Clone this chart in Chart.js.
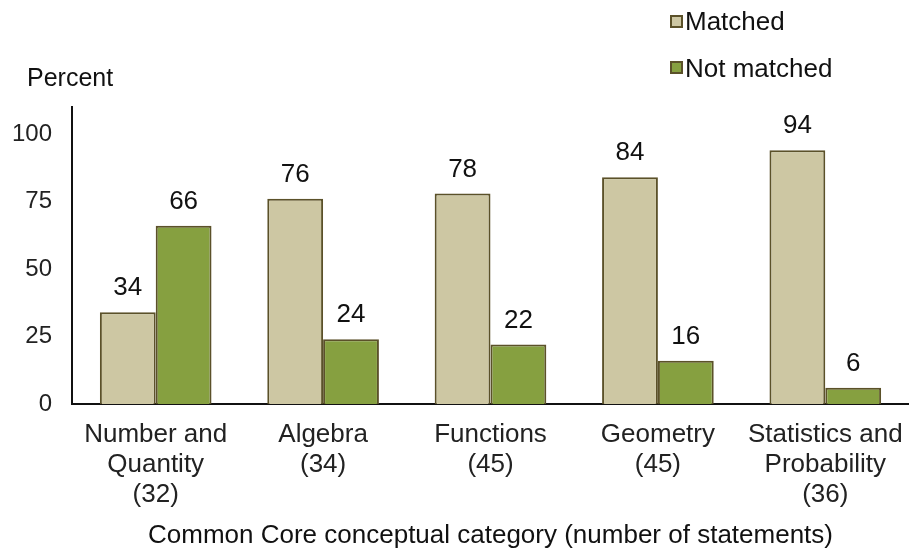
<!DOCTYPE html>
<html>
<head>
<meta charset="utf-8">
<script src="https://cdn.jsdelivr.net/npm/chart.js@4/dist/chart.umd.min.js"></script>
<style>
  html, body { margin: 0; padding: 0; background: #fff; }
  #wrap { position: relative; width: 909px; height: 552px; font-family: "Liberation Sans", Arial, sans-serif; color: #111; }
  #chart { position: absolute; left: 0; top: 0; }
  .lbl { position: absolute; font-size: 25px; line-height: 30px; white-space: nowrap; }
  .sw { position: absolute; width: 9px; height: 9px; border: 2px solid #5b5129; }
</style>
</head>
<body>
<div id="wrap">
  <canvas id="chart" width="909" height="552"></canvas>
  <div class="lbl" style="left:27px; top:62px;">Percent</div>
  <div class="sw" style="left:670px; top:15px; background:#cdc7a3;"></div>
  <div class="lbl" style="left:685px; top:6px; font-size:26px;">Matched</div>
  <div class="sw" style="left:670px; top:61px; background:#86a040;"></div>
  <div class="lbl" style="left:685px; top:53px; font-size:26px;">Not matched</div>
</div>
<script>
(function() {
  'use strict';

  const categories = [
    ['Number and', 'Quantity', '(32)'],
    ['Algebra', '(34)'],
    ['Functions', '(45)'],
    ['Geometry', '(45)'],
    ['Statistics and', 'Probability', '(36)']
  ];
  const matched = [34, 76, 78, 84, 94];
  const notMatched = [66, 24, 22, 16, 6];
  const yTicks = [0, 25, 50, 75, 100];

  const FONT = '"Liberation Sans", Arial, sans-serif';

  // Valores encima de cada barra
  const valueLabels = {
    id: 'valueLabels',
    afterDatasetsDraw(chart) {
      const ctx = chart.ctx;
      ctx.save();
      ctx.font = '26px ' + FONT;
      ctx.fillStyle = '#111';
      ctx.textAlign = 'center';
      ctx.textBaseline = 'bottom';
      chart.data.datasets.forEach((ds, i) => {
        chart.getDatasetMeta(i).data.forEach((bar, j) => {
          ctx.fillText(String(ds.data[j]), bar.x, bar.y - 11);
        });
      });
      ctx.restore();
    }
  };

  new Chart(document.getElementById('chart').getContext('2d'), {
    type: 'bar',
    data: {
      labels: categories,
      datasets: [{
        label: 'Matched',
        data: matched,
        backgroundColor: '#cdc7a3',
        borderColor: '#5b5129',
        borderWidth: 2
      }, {
        label: 'Not matched',
        data: notMatched,
        backgroundColor: '#86a040',
        borderColor: '#5b5129',
        borderWidth: 2
      }]
    },
    options: {
      responsive: false,
      animation: false,
      layout: { padding: { top: 107, right: 0, left: 0, bottom: 0 } },
      datasets: { bar: { categoryPercentage: 0.667, barPercentage: 1 } },
      plugins: {
        legend: { display: false },
        tooltip: { enabled: false }
      },
      scales: {
        x: {
          afterFit(scale) {
            scale.height = 148;
            scale.paddingLeft = 0;
            scale.paddingRight = 0;
          },
          grid: { display: false, drawTicks: false },
          border: { color: '#111', width: 2 },
          ticks: { color: '#222', font: { family: FONT, size: 26, lineHeight: 1.154 }, padding: 16, maxRotation: 0, autoSkip: false },
          title: {
            display: true,
            text: 'Common Core conceptual category (number of statements)',
            color: '#111',
            font: { family: FONT, size: 26, lineHeight: 1.2 },
            padding: { top: 10, bottom: 1 }
          }
        },
        y: {
          min: 0,
          max: 110,
          afterBuildTicks(scale) {
            scale.ticks = yTicks.map(v => ({ value: v }));
          },
          afterFit(scale) {
            scale.width = 72;
          },
          grid: { display: false, drawTicks: false },
          border: { color: '#111', width: 2 },
          ticks: { color: '#222', font: { family: FONT, size: 24 }, padding: 20 }
        }
      }
    },
    plugins: [valueLabels]
  });
})();
</script>
</body>
</html>
